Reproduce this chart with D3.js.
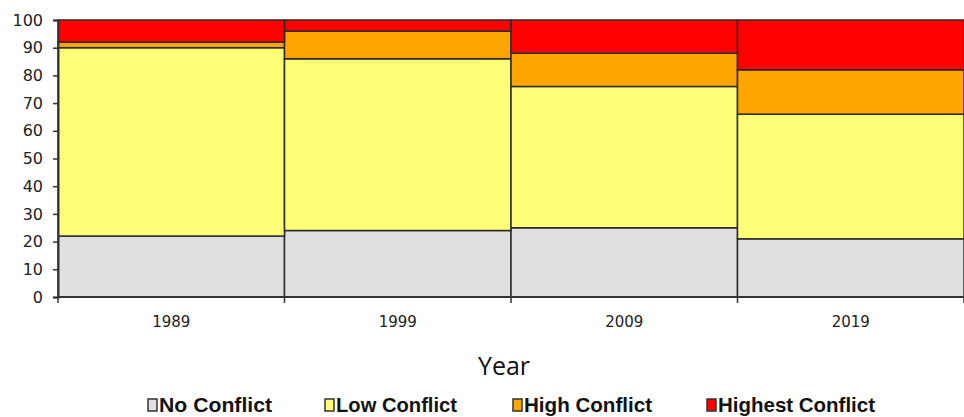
<!DOCTYPE html>
<html>
<head>
<meta charset="utf-8">
<script src="https://cdn.jsdelivr.net/npm/d3@7"></script>
<style>
  html, body { margin: 0; padding: 0; background: #fff; }
  svg { display: block; }
</style>
</head>
<body>
<svg id="chart" width="964" height="417"></svg>
<script>
// Share of cases by conflict level, per survey year (percent, stacks sum to 100)
const years = ["1989", "1999", "2009", "2019"];
const seriesNames = ["No Conflict", "Low Conflict", "High Conflict", "Highest Conflict"];
const noConflict      = [22, 24, 25, 21];
const lowConflict     = [68, 62, 51, 45];
const highConflict    = [2, 10, 12, 16];
const highestConflict = [8, 4, 12, 18];
const yTicks = [0, 10, 20, 30, 40, 50, 60, 70, 80, 90, 100];
const colors = ["#e0e0e0", "#ffff77", "#ffa500", "#ff0000"];

const seriesValues = [noConflict, lowConflict, highConflict, highestConflict];
const rows = years.map((yr, i) => {
  const r = { year: yr };
  seriesNames.forEach((s, k) => { r[s] = seriesValues[k][i]; });
  return r;
});

const svg = d3.select("#chart");
const plot = { left: 58, right: 964, top: 20, bottom: 297 };

const x = d3.scaleBand().domain(years).range([plot.left, plot.right]).padding(0);
const y = d3.scaleLinear().domain([0, 100]).range([plot.bottom, plot.top]);

const stacked = d3.stack().keys(seriesNames)(rows);

svg.append("g")
  .selectAll("g")
  .data(stacked)
  .join("g")
  .attr("fill", (d, i) => colors[i])
  .selectAll("rect")
  .data(d => d)
  .join("rect")
  .attr("x", d => x(d.data.year))
  .attr("width", x.bandwidth())
  .attr("y", d => y(d[1]))
  .attr("height", d => y(d[0]) - y(d[1]))
  .attr("stroke", "#2b2b2b")
  .attr("stroke-width", 1.5);

// Y axis
const yAxis = svg.append("g")
  .attr("transform", `translate(${plot.left},0)`)
  .call(d3.axisLeft(y).tickValues(yTicks).tickSize(5).tickPadding(10));
yAxis.select(".domain").attr("stroke", "#333").attr("stroke-width", 2);
yAxis.selectAll(".tick line").attr("stroke", "#333").attr("stroke-width", 1.5);
yAxis.selectAll("text")
  .attr("font-family", "DejaVu Sans, Verdana, sans-serif")
  .attr("font-size", 16)
  .attr("fill", "#222");

// X axis: ticks at category boundaries, labels centred in each band
const xAxis = svg.append("g").attr("transform", `translate(0,${plot.bottom})`);
xAxis.append("line")
  .attr("x1", plot.left).attr("x2", plot.right)
  .attr("stroke", "#333").attr("stroke-width", 2);
const bounds = years.map(d => x(d)).concat([x(years[years.length - 1]) + x.bandwidth()]);
xAxis.selectAll(".bt")
  .data(bounds)
  .join("line")
  .attr("class", "bt")
  .attr("x1", d => d).attr("x2", d => d)
  .attr("y1", 0).attr("y2", 6)
  .attr("stroke", "#333").attr("stroke-width", 1.5);
xAxis.selectAll(".lab")
  .data(years)
  .join("text")
  .attr("class", "lab")
  .attr("x", d => x(d) + x.bandwidth() / 2)
  .attr("y", 30)
  .attr("text-anchor", "middle")
  .attr("font-family", "DejaVu Sans, Verdana, sans-serif")
  .attr("font-size", 15)
  .attr("fill", "#222")
  .text(d => d);

// Axis title
svg.append("text")
  .attr("x", 504)
  .attr("y", 375)
  .attr("text-anchor", "middle")
  .attr("font-family", "Open Sans, sans-serif")
  .attr("font-size", 25)
  .attr("fill", "#111")
  .text("Year");

// Legend
const legendX = [148, 325, 513, 707];
const legendW = [113, 121, 128, 157];
const legend = svg.append("g");
const items = legend.selectAll("g")
  .data(seriesNames)
  .join("g")
  .attr("transform", (d, i) => `translate(${legendX[i]},399)`);
items.append("rect")
  .attr("width", 9).attr("height", 12)
  .attr("fill", (d, i) => colors[i])
  .attr("stroke", "#333").attr("stroke-width", 1.5);
items.append("text")
  .attr("x", 11)
  .attr("y", 12.5)
  .attr("font-family", "Liberation Sans, Arial, sans-serif")
  .attr("font-weight", "bold")
  .attr("font-size", 21)
  .attr("fill", "#111")
  .attr("textLength", (d, i) => legendW[i])
  .attr("lengthAdjust", "spacingAndGlyphs")
  .text(d => d);
</script>
</body>
</html>
